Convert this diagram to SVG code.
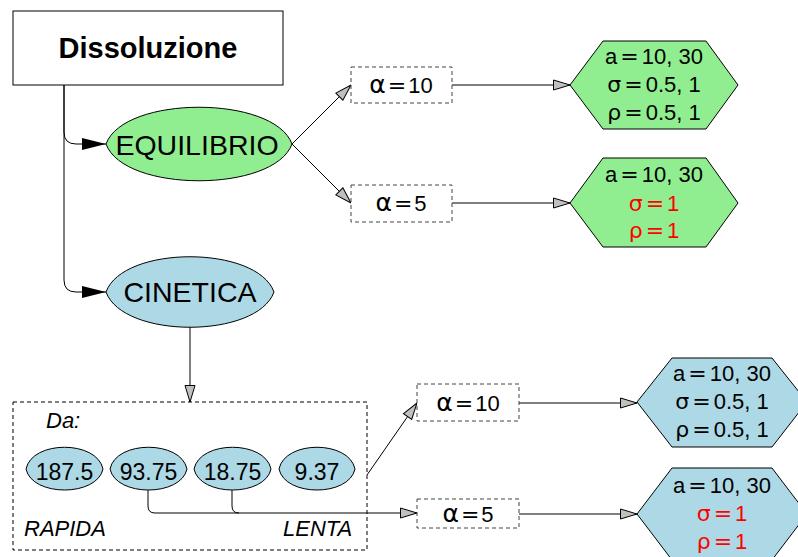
<svg xmlns="http://www.w3.org/2000/svg" width="798" height="557" viewBox="0 0 798 557">
<style>
text{font-family:"Liberation Sans",Arial,sans-serif;fill:#000;text-anchor:middle}
.sym{font-family:"DejaVu Sans",sans-serif}
.shape{stroke:#000;stroke-width:1}
.green{fill:#90EE90}
.blue{fill:#ADD8E6}
.abox{fill:#fff;stroke:#444;stroke-width:1;stroke-dasharray:4,3}
.conn{fill:none;stroke:#000;stroke-width:1}
.big{font-size:28.5px}
.mid{font-size:22px}
.num{font-size:23px}
.red{fill:#FF0000}
.it{font-style:italic;text-anchor:start}
</style>
<defs>
<marker id="blk" markerWidth="24" markerHeight="12" viewBox="0 0 24 12" refX="24" refY="6" orient="auto" markerUnits="userSpaceOnUse"><path d="M0,0 L24,6 L0,12 Z" fill="#000"/></marker>
<marker id="gry" markerWidth="18" markerHeight="12" viewBox="0 0 18 12" refX="17.5" refY="6" orient="auto" markerUnits="userSpaceOnUse"><path d="M1,1 L17.5,6 L1,11 Z" fill="#c0c0c0" stroke="#000" stroke-width="1"/></marker>
</defs>

<g id="connectors">
<path class="conn" d="M64,85 V132 Q64,144 76,144 H106" marker-end="url(#blk)"/>
<path class="conn" d="M64,85 V280 Q64,292 76,292 H106" marker-end="url(#blk)"/>
<path class="conn" d="M292,144 L351,85" marker-end="url(#gry)"/>
<path class="conn" d="M292,144 L351,203" marker-end="url(#gry)"/>
<path class="conn" d="M452,85 H570" marker-end="url(#gry)"/>
<path class="conn" d="M452,203 H570" marker-end="url(#gry)"/>
<path class="conn" d="M190,327 V402" marker-end="url(#gry)"/>
<path class="conn" d="M367,475 L417,403" marker-end="url(#gry)"/>
<path class="conn" d="M148,490 V506 Q148,513 155,513 H417" marker-end="url(#gry)"/>
<path class="conn" d="M232,490 V506 Q232,513 239,513"/>
<path class="conn" d="M519,403 H637" marker-end="url(#gry)"/>
<path class="conn" d="M519,514 H637" marker-end="url(#gry)"/>
</g>

<g id="dissoluzione">
<rect x="13" y="11" width="270" height="74" fill="#fff" class="shape"/>
<text x="148" y="58" font-size="29" font-weight="bold">Dissoluzione</text>
</g>

<g id="equilibrio">
<path class="shape green" d="M106,144 C124,95 274,95 292,144 C274,193 124,193 106,144 Z"/>
<text x="197" y="155" class="big">EQUILIBRIO</text>
</g>

<g id="cinetica">
<path class="shape blue" d="M106,292 C123,245 257,245 274,292 C257,339 123,339 106,292 Z"/>
<text x="190" y="302" class="big">CINETICA</text>
</g>

<g id="eq-alpha10">
<rect class="abox" x="351" y="67" width="101" height="36"/>
<text x="401" y="93" class="mid"><tspan class="sym" font-size="25">α</tspan><tspan class="sym" dx="2">=</tspan><tspan dx="2">10</tspan></text>
</g>
<g id="eq-alpha5">
<rect class="abox" x="351" y="185" width="101" height="37"/>
<text x="401" y="211" class="mid"><tspan class="sym" font-size="25">α</tspan><tspan class="sym" dx="2">=</tspan><tspan dx="2">5</tspan></text>
</g>

<g id="eq-hex1">
<polygon class="shape green" points="570,85 603,41 706,41 738,85 706,129 603,129"/>
<text x="654" y="64" class="mid">a<tspan class="sym" dx="3">=</tspan><tspan dx="3">10, 30</tspan></text>
<text x="654" y="92" class="mid"><tspan class="sym">σ</tspan><tspan class="sym" dx="3">=</tspan><tspan dx="3">0.5, 1</tspan></text>
<text x="654" y="120" class="mid"><tspan class="sym">ρ</tspan><tspan class="sym" dx="3">=</tspan><tspan dx="3">0.5, 1</tspan></text>
</g>
<g id="eq-hex2">
<polygon class="shape green" points="570,203 603,158 706,158 738,203 706,247 603,247"/>
<text x="654" y="182" class="mid">a<tspan class="sym" dx="3">=</tspan><tspan dx="3">10, 30</tspan></text>
<text x="654" y="211" class="mid red"><tspan class="sym">σ</tspan><tspan class="sym" dx="3">=</tspan><tspan dx="3">1</tspan></text>
<text x="654" y="238" class="mid red"><tspan class="sym">ρ</tspan><tspan class="sym" dx="3">=</tspan><tspan dx="3">1</tspan></text>
</g>

<g id="da-group">
<rect x="13" y="402" width="354" height="148" fill="none" stroke="#000" stroke-width="1" stroke-dasharray="4,3"/>
<text x="46" y="428" class="it" font-size="22">Da:</text>
<text x="24" y="536" class="it" font-size="22">RAPIDA</text>
<text x="283" y="536" class="it" font-size="22">LENTA</text>
</g>

<g id="da-1875">
<path class="shape blue" d="M26,469 C32,440 97,440 103,469 C97,497 32,497 26,469 Z"/>
<text x="64.5" y="480" class="num">187.5</text>
</g>
<g id="da-9375">
<path class="shape blue" d="M110,469 C116,440 181,440 187,469 C181,497 116,497 110,469 Z"/>
<text x="148.5" y="480" class="num">93.75</text>
</g>
<g id="da-1875b">
<path class="shape blue" d="M194,469 C200,440 265,440 271,469 C265,497 200,497 194,469 Z"/>
<text x="232.5" y="480" class="num">18.75</text>
</g>
<g id="da-937">
<path class="shape blue" d="M279,469 C285,440 349,440 355,469 C349,497 285,497 279,469 Z"/>
<text x="317" y="480" class="num">9.37</text>
</g>

<g id="ci-alpha10">
<rect class="abox" x="417" y="384" width="102" height="37"/>
<text x="468" y="411" class="mid"><tspan class="sym" font-size="25">α</tspan><tspan class="sym" dx="2">=</tspan><tspan dx="2">10</tspan></text>
</g>
<g id="ci-alpha5">
<rect class="abox" x="417" y="499" width="102" height="29"/>
<text x="468" y="522" class="mid"><tspan class="sym" font-size="25">α</tspan><tspan class="sym" dx="2">=</tspan><tspan dx="2">5</tspan></text>
</g>

<g id="ci-hex1">
<polygon class="shape blue" points="637,402 672,358 772,358 807,402 772,447 672,447"/>
<text x="722" y="381" class="mid">a<tspan class="sym" dx="3">=</tspan><tspan dx="3">10, 30</tspan></text>
<text x="722" y="409" class="mid"><tspan class="sym">σ</tspan><tspan class="sym" dx="3">=</tspan><tspan dx="3">0.5, 1</tspan></text>
<text x="722" y="437" class="mid"><tspan class="sym">ρ</tspan><tspan class="sym" dx="3">=</tspan><tspan dx="3">0.5, 1</tspan></text>
</g>
<g id="ci-hex2">
<polygon class="shape blue" points="637,514 672,468 772,468 807,514 772,560 672,560"/>
<text x="722" y="493" class="mid">a<tspan class="sym" dx="3">=</tspan><tspan dx="3">10, 30</tspan></text>
<text x="722" y="521" class="mid red"><tspan class="sym">σ</tspan><tspan class="sym" dx="3">=</tspan><tspan dx="3">1</tspan></text>
<text x="722" y="549" class="mid red"><tspan class="sym">ρ</tspan><tspan class="sym" dx="3">=</tspan><tspan dx="3">1</tspan></text>
</g>
</svg>
